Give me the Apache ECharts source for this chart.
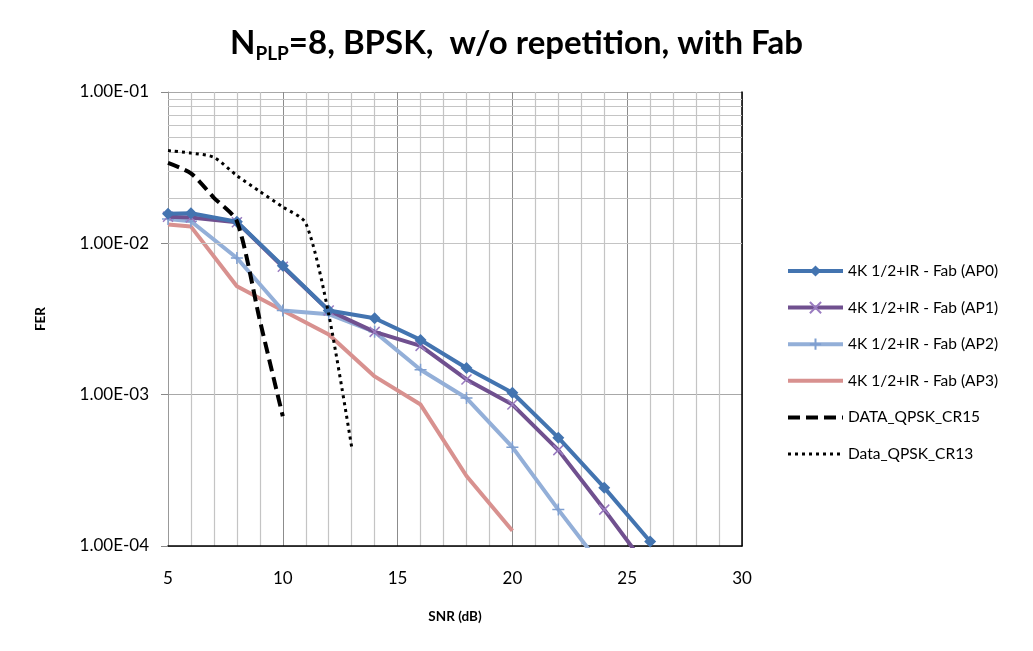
<!DOCTYPE html>
<html><head><meta charset="utf-8">
<script src="https://cdn.jsdelivr.net/npm/echarts@6/dist/echarts.min.js"></script>
<style>html,body{margin:0;padding:0;background:#fff}#c{width:1033px;height:651px}</style>
</head><body><div id="c"></div>
<script>
const xTicks = [5, 10, 15, 20, 25, 30];
const yTickLabels = ['1.00E-04', '1.00E-03', '1.00E-02', '1.00E-01'];

const snrAP0 = [5, 6, 8, 10, 12, 14, 16, 18, 20, 22, 24, 26];
const ferAP0 = [0.0157, 0.0158, 0.0139, 0.0071, 0.0036, 0.0032, 0.0023, 0.0015, 0.00103, 0.00052, 0.000243, 0.000107];

const snrAP1 = [5, 6, 8, 10, 12, 14, 16, 18, 20, 22, 24, 26];
const ferAP1 = [0.0150, 0.0148, 0.0138, 0.0070, 0.0036, 0.0026, 0.0021, 0.00126, 0.00086, 0.00043, 0.000174, 0.000068];

const snrAP2 = [5, 6, 8, 10, 12, 14, 16, 18, 20, 22, 24];
const ferAP2 = [0.0145, 0.0140, 0.0080, 0.0036, 0.0034, 0.0026, 0.00146, 0.00095, 0.00045, 0.000174, 0.00007];

const snrAP3 = [5, 6, 8, 10, 12, 14, 16, 18, 20];
const ferAP3 = [0.0133, 0.0129, 0.0052, 0.0036, 0.0025, 0.00132, 0.00086, 0.00029, 0.000126];

const snrCR15 = [5, 6, 7, 8, 9, 10];
const ferCR15 = [0.034, 0.029, 0.020, 0.014, 0.0031, 0.00072];

const snrCR13 = [5, 6, 7, 8, 9, 10, 11, 12, 13];
const ferCR13 = [0.041, 0.0395, 0.037, 0.028, 0.022, 0.0174, 0.0136, 0.0034, 0.00045];

const names = ['4K 1/2+IR - Fab (AP0)', '4K 1/2+IR - Fab (AP1)', '4K 1/2+IR - Fab (AP2)', '4K 1/2+IR - Fab (AP3)', 'DATA_QPSK_CR15', 'Data_QPSK_CR13'];
const colors = ['#4374B0', '#70508F', '#93AFD8', '#D8918F', '#000000', '#000000'];

const pairs = (xs, ys) => xs.map((x, i) => [x, ys[i]]);
const FONT = 'Lato, "Open Sans", sans-serif';

// minor log gridlines at 2..9 within each decade
const minorY = [];
[1e-4, 1e-3, 1e-2].forEach(d => { for (let k = 2; k <= 9; k++) minorY.push({ yAxis: k * d }); });

const crossPath = 'path://M0,0L10,10M10,0L0,10';
const plusPath = 'path://M5,0L5,10M0,5L10,5';

const chart = echarts.init(document.getElementById('c'), null, { renderer: 'canvas' });
chart.setOption({
  animation: false,
  backgroundColor: '#fff',
  title: {
    text: '{a|N}{s|PLP}{a|=8, BPSK,  w/o repetition, with Fab}',
    left: 'center', top: 18,
    textStyle: {
      rich: {
        a: { fontFamily: FONT, fontWeight: 'bold', fontSize: 33, lineHeight: 40, color: '#000' },
        s: { fontFamily: FONT, fontWeight: 'bold', fontSize: 19, lineHeight: 19, verticalAlign: 'bottom', color: '#000' }
      }
    }
  },
  legend: {
    orient: 'vertical', left: 781, top: 258,
    itemWidth: 55, itemHeight: 14, itemGap: 20.6,
    textStyle: { fontFamily: FONT, fontSize: 15.5, color: '#000' },
    data: [
      { name: names[0], lineStyle: { width: 4 } },
      { name: names[1], lineStyle: { width: 4 } },
      { name: names[2], lineStyle: { width: 4 } },
      { name: names[3], lineStyle: { width: 4 }, itemStyle: { opacity: 0 } },
      { name: names[4], lineStyle: { width: 4 }, itemStyle: { opacity: 0 } },
      { name: names[5], lineStyle: { width: 3 }, itemStyle: { opacity: 0 } }
    ]
  },
  grid: { left: 168, top: 92, width: 574, height: 454, containLabel: false },
  xAxis: {
    type: 'value', min: 5, max: 30, interval: 5,
    name: 'SNR (dB)', nameLocation: 'middle', nameGap: 64,
    nameTextStyle: { fontFamily: FONT, fontWeight: 'bold', fontSize: 13.5, color: '#000' },
    axisLine: { lineStyle: { color: '#000', width: 1.5 } },
    axisTick: { show: false },
    axisLabel: { fontFamily: FONT, fontSize: 17, color: '#000', margin: 24 },
    splitLine: { show: true, lineStyle: { color: '#8c8c8c', width: 1 } },
    minorTick: { show: false, splitNumber: 5 },
    minorSplitLine: { show: true, lineStyle: { color: '#c4c4c4', width: 1.2 } }
  },
  yAxis: [{
    type: 'log', logBase: 10, min: 1e-4, max: 1e-1,
    name: 'FER', nameLocation: 'middle', nameGap: 120, nameRotate: 90,
    nameTextStyle: { fontFamily: FONT, fontWeight: 'bold', fontSize: 13.5, color: '#000' },
    axisLine: { show: true, lineStyle: { color: '#999', width: 1 } },
    axisTick: { show: true, inside: false, length: 7, lineStyle: { color: '#888' } },
    axisLabel: {
      fontFamily: FONT, fontSize: 17, color: '#000', margin: 19,
      formatter: v => yTickLabels[Math.round(Math.log10(v)) + 4]
    },
    splitLine: { show: true, lineStyle: { color: '#a8a8a8', width: 1.2 } }
  }, {
    type: 'log', logBase: 10, min: 1e-4, max: 1e-1, position: 'right',
    axisLine: { show: true, lineStyle: { color: '#000', width: 1.5 } },
    axisTick: { show: false }, axisLabel: { show: false }, splitLine: { show: false }
  }],
  series: [
    {
      type: 'line', name: '__grid', silent: true, data: [], symbol: 'none',
      markLine: { silent: true, symbol: 'none', label: { show: false },
        lineStyle: { color: '#c4c4c4', width: 1.2, type: 'solid' }, data: minorY },
      z: 1
    },
    {
      name: names[0], type: 'line', data: pairs(snrAP0, ferAP0),
      symbol: 'diamond', symbolSize: 12, color: colors[0],
      lineStyle: { width: 4, color: colors[0] }, itemStyle: { color: colors[0] }, z: 6
    },
    {
      name: names[1], type: 'line', data: pairs(snrAP1, ferAP1),
      symbol: crossPath, symbolSize: 10, color: colors[1],
      lineStyle: { width: 4, color: colors[1] },
      itemStyle: { color: 'transparent', borderColor: '#9a7cc0', borderWidth: 1.5 }, z: 5
    },
    {
      name: names[2], type: 'line', data: pairs(snrAP2, ferAP2),
      symbol: plusPath, symbolSize: 12, color: colors[2],
      lineStyle: { width: 4, color: colors[2] },
      itemStyle: { color: 'transparent', borderColor: '#7f9fd0', borderWidth: 1.5 }, z: 4
    },
    {
      name: names[3], type: 'line', data: pairs(snrAP3, ferAP3),
      symbol: 'none', color: colors[3],
      lineStyle: { width: 4, color: colors[3] }, z: 3
    },
    {
      name: names[4], type: 'line', data: pairs(snrCR15, ferCR15),
      symbol: 'none', smooth: 0.25, color: colors[4],
      lineStyle: { width: 4, color: colors[4], type: [12, 6] }, z: 7
    },
    {
      name: names[5], type: 'line', data: pairs(snrCR13, ferCR13),
      symbol: 'none', smooth: 0.25, color: colors[5],
      lineStyle: { width: 3, color: colors[5], type: [3, 4] }, z: 7
    }
  ]
});
</script>
</body></html>
